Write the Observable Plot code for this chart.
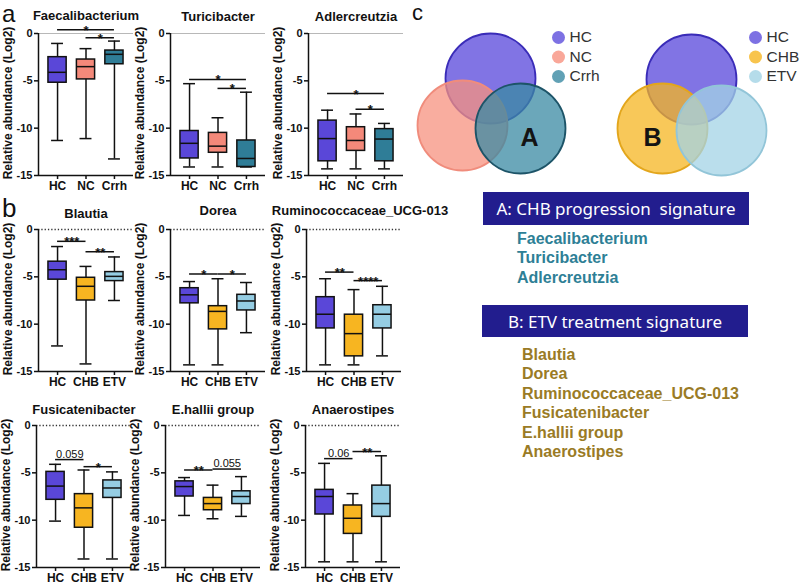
<!DOCTYPE html>
<html>
<head>
<meta charset="utf-8">
<script src="https://cdn.jsdelivr.net/npm/d3@7"></script>
<script src="https://cdn.jsdelivr.net/npm/@observablehq/plot@0.6"></script>
<style>
  html, body { margin: 0; padding: 0; background: #fff; }
  #fig { position: relative; width: 800px; height: 587px; background: #fff; overflow: hidden;
         font-family: "Liberation Sans", Arial, sans-serif; }
  .letter { position: absolute; color: #111; }
  .ylab { position: absolute; width: 170px; height: 14px; line-height: 14px; text-align: center;
          font-size: 12px; font-weight: bold; color: #111; transform: rotate(-90deg); white-space: nowrap; }
  .navy { position: absolute; background: #221d8e; color: #fff; display: flex; align-items: center;
          justify-content: center; font-family: "Noto Sans", sans-serif; font-size: 17px; white-space: pre; }
  .list { position: absolute; font-weight: bold; font-size: 16px; line-height: 19.4px; white-space: pre; }
</style>
</head>
<body>
<div id="fig"></div>
<script>
// ---------------- data ----------------
const groupsA = ["HC", "NC", "Crrh"];
const groupsB = ["HC", "CHB", "ETV"];
const colorsA = ["#5a47d8", "#f4897a", "#2f7d97"];
const colorsB = ["#5a47d8", "#f7b521", "#95cde3"];
const yTicks = [0, -5, -10, -15];
const yLabel = "Relative abundance (Log2)";

// per group: [min, q1, median, q3, max]
const faecalibacterium = [[-11.3, -5.2, -4.1, -2.5, -1.05], [-11.1, -4.85, -3.5, -2.75, -1.6], [-13.25, -3.25, -2.2, -1.8, -0.8]];
const turicibacter     = [[-14.1, -13.2, -11.6, -10.3, -5.3], [-14.1, -12.6, -11.9, -10.5, -8.9], [-14.1, -14.1, -13.2, -11.3, -6.2]];
const adlercreutzia    = [[-14.3, -13.5, -11.1, -9.2, -8.1], [-14.3, -12.4, -11.3, -9.9, -8.5], [-14.3, -13.5, -11.15, -10.1, -9.5]];
const blautia          = [[-12.3, -5.3, -4.25, -3.4, -1.8], [-14.2, -7.5, -6.0, -5.1, -3.9], [-7.5, -5.45, -4.95, -4.5, -2.9]];
const dorea            = [[-14.3, -7.8, -6.9, -6.2, -5.5], [-14.3, -10.55, -8.65, -8.1, -5.2], [-10.9, -8.55, -7.55, -6.9, -5.6]];
const ruminococcaceae  = [[-14.3, -10.45, -8.95, -7.15, -5.2], [-14.3, -13.4, -11.0, -9.0, -6.35], [-13.35, -10.45, -8.95, -8.0, -6.0]];
const fusicatenibacter = [[-10.1, -7.85, -6.4, -4.9, -4.1], [-14.1, -10.8, -8.7, -7.25, -4.7], [-14.1, -7.65, -6.6, -5.8, -4.9]];
const ehallii          = [[-9.5, -7.5, -6.45, -5.9, -5.5], [-9.85, -8.95, -8.25, -7.65, -6.3], [-9.6, -8.3, -7.5, -6.95, -5.4]];
const anaerostipes     = [[-14.4, -9.4, -7.5, -6.8, -4.0], [-14.4, -11.45, -9.8, -8.45, -7.2], [-14.4, -9.65, -8.25, -6.35, -3.2]];

// significance bars: [from group, to group, y, label]
const faecalibacteriumSig = [[0, 2, 0.4, "*"], [1, 2, -0.45, "*"]];
const turicibacterSig     = [[0, 2, -4.85, "*"], [1, 2, -5.8, "*"]];
const adlercreutziaSig    = [[0, 2, -6.35, "*"], [1, 2, -8.0, "*"]];
const blautiaSig          = [[0, 1, -1.25, "***"], [1, 2, -2.35, "**"]];
const doreaSig            = [[0, 1, -4.7, "*"], [1, 2, -4.7, "*"]];
const ruminococcaceaeSig  = [[0, 1, -4.5, "**"], [1, 2, -5.4, "****"]];
const fusicatenibacterSig = [[0, 1, -3.6, "0.059"], [1, 2, -4.35, "*"]];
const ehalliiSig          = [[0, 1, -4.7, "**"], [1, 2, -4.6, "0.055"]];
const anaerostipesSig     = [[0, 1, -3.5, "0.06"], [1, 2, -2.75, "**"]];

// Venn sets
const venn1Sets = ["HC", "NC", "Crrh"];
const venn2Sets = ["HC", "CHB", "ETV"];
const signatureA = ["Faecalibacterium", "Turicibacter", "Adlercreutzia"];
const signatureB = ["Blautia", "Dorea", "Ruminococcaceae_UCG-013", "Fusicatenibacter", "E.hallii group", "Anaerostipes"];

// ---------------- drawing ----------------
const fig = document.getElementById("fig");
const FONT = "Liberation Sans, Arial, sans-serif";

function place(node, left, top) {
  node.style.position = "absolute";
  node.style.left = left + "px";
  node.style.top = top + "px";
  fig.appendChild(node);
}

function yLab(cx, cy) {
  const d = document.createElement("div");
  d.className = "ylab"; d.textContent = yLabel;
  d.style.left = (cx - 85) + "px"; d.style.top = (cy - 7) + "px";
  fig.appendChild(d);
}

function boxPanel({title, groups, colors, stats, sig, zero, axisX, top, y0, titleY, titleDx = 0}) {
  const mt = y0 - top;
  const table = stats.map((s, i) => ({i, min: s[0], q1: s[1], med: s[2], q3: s[3], max: s[4], fill: colors[i]}));
  const hw = 0.32, cw = 0.21;
  const zeroMark = zero === "solid"
    ? Plot.ruleY([0], {stroke: "#b8b8b8", strokeWidth: 1})
    : Plot.ruleY([0], {stroke: "#333", strokeWidth: 1.3, strokeDasharray: "1.3,2"});
  const stars = sig.filter(d => /^\*+$/.test(d[3]));
  const nums = sig.filter(d => !/^\*+$/.test(d[3]));
  const svg = Plot.plot({
    width: 140, height: mt + 142 + 30,
    marginLeft: 38, marginRight: 7, marginTop: mt, marginBottom: 30,
    style: {background: "transparent", fontFamily: FONT, overflow: "visible", color: "#111"},
    x: {domain: [-0.67, 2.67]},
    y: {domain: [-15, 0]},
    color: {type: "identity"},
    marks: [
      zeroMark,
      Plot.ruleX(table, {x: "i", y1: "min", y2: "max", stroke: "#111", strokeWidth: 1.5}),
      Plot.ruleY(table, {x1: d => d.i - cw, x2: d => d.i + cw, y: "min", stroke: "#111", strokeWidth: 1.5}),
      Plot.ruleY(table, {x1: d => d.i - cw, x2: d => d.i + cw, y: "max", stroke: "#111", strokeWidth: 1.5}),
      Plot.rectY(table, {x1: d => d.i - hw, x2: d => d.i + hw, y1: "q1", y2: "q3", fill: "fill", stroke: "#111", strokeWidth: 1.5}),
      Plot.ruleY(table, {x1: d => d.i - hw, x2: d => d.i + hw, y: "med", stroke: "#111", strokeWidth: 1.5}),
      Plot.ruleY(sig, {x1: d => d[0], x2: d => d[1], y: d => d[2], stroke: "#111", strokeWidth: 1.5}),
      Plot.text(stars, {x: d => (d[0] + d[1]) / 2, y: d => d[2], text: d => d[3], lineAnchor: "bottom", dy: 5, fontSize: 13, fontWeight: "bold", fill: "#111"}),
      Plot.text(nums, {x: d => (d[0] + d[1]) / 2, y: d => d[2], text: d => d[3], lineAnchor: "bottom", dy: -2, fontSize: 11, fill: "#111"}),
      Plot.ruleX([-0.67], {stroke: "#111", strokeWidth: 1.5}),
      Plot.ruleY([-15], {stroke: "#111", strokeWidth: 1.5}),
      Plot.axisY({ticks: yTicks, tickSize: 4, tickPadding: 2, tickFormat: d => String(d), fontSize: 11, fontWeight: "bold", label: null, strokeWidth: 1.5}),
      Plot.axisX({ticks: [0, 1, 2], tickSize: 4, tickPadding: 2, tickFormat: i => groups[i], fontSize: 12, fontWeight: "bold", label: null, strokeWidth: 1.5}),
      Plot.text([title], {frameAnchor: "top", lineAnchor: "middle", dy: titleY - y0, dx: titleDx, text: d => d, fontSize: 13, fontWeight: "bold", fill: "#111"})
    ]
  });
  place(svg, axisX - 38, top);
  yLab(axisX - 30, y0 + 70);
}

// row a
boxPanel({title: "Faecalibacterium", groups: groupsA, colors: colorsA, stats: faecalibacterium, sig: faecalibacteriumSig, zero: "solid", axisX: 38, top: 0, y0: 33, titleY: 15});
boxPanel({title: "Turicibacter", groups: groupsA, colors: colorsA, stats: turicibacter, sig: turicibacterSig, zero: "solid", axisX: 170, top: 0, y0: 33, titleY: 16});
boxPanel({title: "Adlercreutzia", groups: groupsA, colors: colorsA, stats: adlercreutzia, sig: adlercreutziaSig, zero: "solid", axisX: 308, top: 0, y0: 33, titleY: 16});
// row b
boxPanel({title: "Blautia", groups: groupsB, colors: colorsB, stats: blautia, sig: blautiaSig, zero: "dotted", axisX: 38, top: 190, y0: 229, titleY: 213});
boxPanel({title: "Dorea", groups: groupsB, colors: colorsB, stats: dorea, sig: doreaSig, zero: "dotted", axisX: 170, top: 190, y0: 229, titleY: 210});
boxPanel({title: "Ruminococcaceae_UCG-013", groups: groupsB, colors: colorsB, stats: ruminococcaceae, sig: ruminococcaceaeSig, zero: "dotted", axisX: 306, top: 190, y0: 229, titleY: 210, titleDx: 6});
// row c
boxPanel({title: "Fusicatenibacter", groups: groupsB, colors: colorsB, stats: fusicatenibacter, sig: fusicatenibacterSig, zero: "dotted", axisX: 36, top: 386, y0: 425, titleY: 409});
boxPanel({title: "E.hallii group", groups: groupsB, colors: colorsB, stats: ehallii, sig: ehalliiSig, zero: "dotted", axisX: 165, top: 386, y0: 425, titleY: 409});
boxPanel({title: "Anaerostipes", groups: groupsB, colors: colorsB, stats: anaerostipes, sig: anaerostipesSig, zero: "dotted", axisX: 305, top: 386, y0: 425, titleY: 409});

// ---- Venn diagrams (panel c) ----
const vennFill = {HC: "#5d4ddc", NC: "#f7917f", Crrh: "#3a89a3", CHB: "#f6b521", ETV: "#a3d3e5"};
const vennStroke = {HC: "#3a2cb8", NC: "#f08c7c", Crrh: "#1d5468", CHB: "#e3a61c", ETV: "#92c5d8"};
// circle layout (diagram geometry)
const venn1Layout = [[70, 78], [42, 125], [100, 128]];
const venn2Layout = [[271, 79], [242, 128], [301, 130]];
const vennCircles = [
  ...venn1Sets.map((s, k) => ({set: s, x: venn1Layout[k][0], y: venn1Layout[k][1]})),
  ...venn2Sets.map((s, k) => ({set: s, x: venn2Layout[k][0], y: venn2Layout[k][1]}))
];
const legendItems = [
  ...venn1Sets.map((s, k) => ({set: s, x: 138, y: 37 + k * 19.5})),
  ...venn2Sets.map((s, k) => ({set: s, x: 335, y: 37 + k * 19.5}))
];
const vennLabels = [{t: "A", x: 109, y: 137}, {t: "B", x: 232, y: 137}];

const venn = Plot.plot({
  width: 380, height: 185, margin: 0,
  style: {background: "transparent", fontFamily: FONT, overflow: "visible"},
  x: {domain: [0, 380], range: [0, 380], axis: null},
  y: {domain: [0, 185], range: [0, 185], axis: null},
  color: {type: "identity"},
  marks: [
    Plot.dot(vennCircles, {x: "x", y: "y", r: 45, fill: d => vennFill[d.set], fillOpacity: d => d.set === "HC" ? 0.78 : 0.75,
      stroke: d => vennStroke[d.set], strokeWidth: 1.8, sort: null}),
    Plot.text(vennLabels, {x: "x", y: "y", text: "t", fontSize: 25, fontWeight: "bold", fill: "#141414"}),
    Plot.dot(legendItems, {x: "x", y: "y", r: 6.5, fill: d => vennFill[d.set], fillOpacity: 0.8, stroke: null}),
    Plot.text(legendItems, {x: "x", y: "y", text: "set", dx: 11, textAnchor: "start", fontSize: 15.5, fill: "#333"})
  ]
});
place(venn, 420, 0);

// ---- panel letters ----
function letter(t, left, top, size, lh) {
  const d = document.createElement("div");
  d.className = "letter"; d.textContent = t;
  d.style.left = left + "px"; d.style.top = top + "px";
  d.style.fontSize = size + "px";
  d.style.lineHeight = lh + "px";
  fig.appendChild(d);
}
letter("a", 2, 0, 24, 28);
letter("b", 2, 195, 26, 26);
letter("c", 412, 0, 22, 25);

// ---- signature boxes ----
function navyBox(t, left, top, w, h) {
  const d = document.createElement("div");
  d.className = "navy"; d.textContent = t;
  Object.assign(d.style, {left: left + "px", top: top + "px", width: w + "px", height: h + "px"});
  fig.appendChild(d);
}
function list(items, left, top, color) {
  const d = document.createElement("div");
  d.className = "list"; d.textContent = items.join("\n");
  Object.assign(d.style, {left: left + "px", top: top + "px", color});
  fig.appendChild(d);
}
navyBox("A: CHB progression  signature", 483, 192, 266, 33);
list(signatureA, 517, 229, "#2e7f96");
navyBox("B: ETV treatment signature", 482, 305, 266, 32);
list(signatureB, 522, 345, "#9a7b25");
</script>
</body>
</html>
